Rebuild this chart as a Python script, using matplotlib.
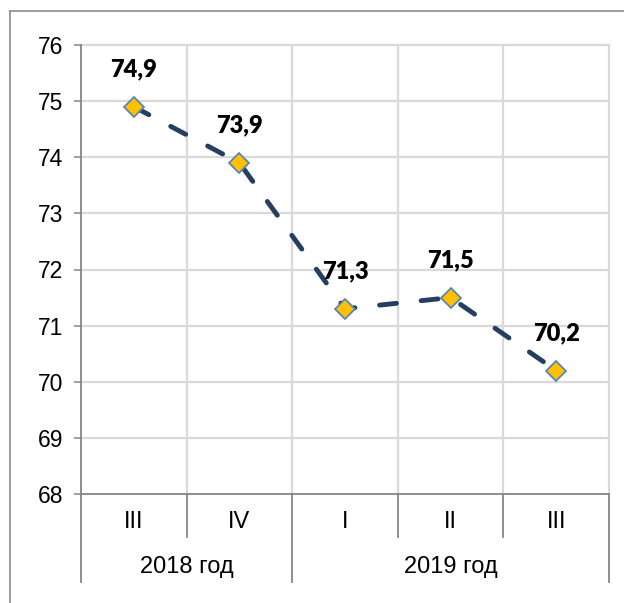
import numpy as np
import matplotlib
matplotlib.use("Agg")
import matplotlib.pyplot as plt
from matplotlib.lines import Line2D
import matplotlib.transforms as mtransforms

# quarterly values
quarters = ["III", "IV", "I", "II", "III"]
years = ["2018 год", "2019 год"]
year_spans = [(0, 2), (2, 5)]  # category index ranges per year
values = [74.9, 73.9, 71.3, 71.5, 70.2]
labels = ["74,9", "73,9", "71,3", "71,5", "70,2"]

W, H = 624, 603
fig = plt.figure(figsize=(W / 100, H / 100), dpi=100)
ax = fig.add_axes([81 / W, 1 - 494 / H, 528 / W, 449 / H])

x = np.arange(len(values)) + 0.5
ax.plot(x, values, color="#243F60", lw=3.5, linestyle=(0, (3.5, 5.1)),
        dash_capstyle="round", zorder=3)
ax.plot(x, values, linestyle="none", marker="D", markersize=10,
        markerfacecolor="#FFC000", markeredgecolor="#4F81BD",
        markeredgewidth=1.2, zorder=4)

for xi, v, lab in zip(x, values, labels):
    ax.annotate(lab, (xi, v), xytext=(0, 27), textcoords="offset points",
                ha="center", va="center", fontsize=17, fontweight="heavy",
                family="Lato", color="black", zorder=5)

ax.set_xlim(0, len(values))
ax.set_ylim(68, 76)
ax.set_yticks(np.arange(68, 77, 1))
ax.set_yticklabels([str(v) for v in range(68, 77)], family="Liberation Sans",
                   fontsize=16.5)
ax.tick_params(axis="y", length=5, width=1.1, color="#868686", pad=8)

# grid
for yv in range(69, 77):
    ax.axhline(yv, color="#D9D9D9", lw=1.6, zorder=1, clip_on=False)
for xv in range(1, len(values) + 1):
    ax.axvline(xv, color="#D9D9D9", lw=1.6, zorder=1, clip_on=False)

for s in ["top", "right"]:
    ax.spines[s].set_visible(False)
for s in ["left", "bottom"]:
    ax.spines[s].set_color("#868686")
    ax.spines[s].set_linewidth(1.3)

# multi-level category axis
ax.set_xticks([])
trans = mtransforms.blended_transform_factory(ax.transData, ax.transAxes)
long_len = (582 - 494) / 449
short_len = (537 - 494) / 449
group_edges = {0, 2, 5}
for xv in range(0, len(values) + 1):
    ln = long_len if xv in group_edges else short_len
    ax.add_line(Line2D([xv, xv], [0, -ln], transform=trans, color="#868686",
                       lw=1.3, clip_on=False))
for xi, q in zip(x, quarters):
    ax.text(xi, (494 - 522) / 449, q, transform=trans, ha="center",
            va="center", fontsize=17, family="Liberation Sans")
for (a, b), yr in zip(year_spans, years):
    ax.text((a + b) / 2, (494 - 567) / 449, yr, transform=trans,
            ha="center", va="center", fontsize=17, family="Liberation Sans")

# outer chart frame (top and left edges visible)
fig.add_artist(Line2D([10 / W, 10 / W], [0, 1 - 11 / H], transform=fig.transFigure,
                      color="#8C8C8C", lw=1.2))
fig.add_artist(Line2D([10 / W, 1], [1 - 11 / H, 1 - 11 / H], transform=fig.transFigure,
                      color="#8C8C8C", lw=1.2))

fig.savefig("out.png", dpi=100)
